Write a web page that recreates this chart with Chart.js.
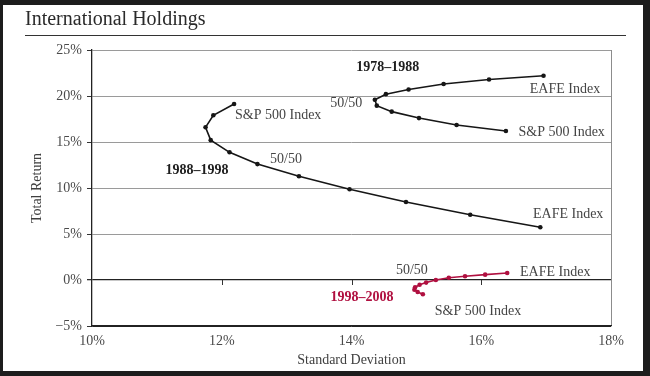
<!DOCTYPE html>
<html><head><meta charset="utf-8">
<script src="https://cdn.jsdelivr.net/npm/chart.js@4.4.1/dist/chart.umd.min.js"></script>
<style>
html,body{margin:0;padding:0;background:#1d1d1d;width:650px;height:376px;overflow:hidden;}
#card{position:absolute;left:3px;top:5px;width:640px;height:366px;background:#fff;}
canvas{position:absolute;left:0;top:0;}
</style></head>
<body>
<div id="card"></div>
<canvas id="c" width="650" height="376"></canvas>
<script>
// Standard deviation (%) and total return (%) for portfolios from 100% EAFE / 100% S&P 500 in 10% steps
const sd7888  = [16.96, 16.12, 15.42, 14.88, 14.53, 14.36, 14.39, 14.62, 15.04, 15.62, 16.38];
const ret7888 = [22.2, 21.8, 21.3, 20.7, 20.2, 19.6, 18.95, 18.3, 17.6, 16.85, 16.2];
const sd8898  = [12.19, 11.87, 11.75, 11.83, 12.12, 12.55, 13.19, 13.97, 14.84, 15.83, 16.91];
const ret8898 = [19.13, 17.9, 16.6, 15.2, 13.88, 12.6, 11.27, 9.86, 8.48, 7.1, 5.73];
const sd9808  = [16.40, 16.06, 15.75, 15.50, 15.30, 15.15, 15.05, 14.98, 14.97, 15.02, 15.10];
const ret9808 = [0.76, 0.58, 0.40, 0.25, 0.0, -0.28, -0.52, -0.78, -1.05, -1.30, -1.55];
const xTicks = [10, 12, 14, 16, 18];
const yTicks = [-5, 0, 5, 10, 15, 20, 25];
const periods = ['1978–1988', '1988–1998', '1998–2008'];
const chartTitle = 'International Holdings';

const zip = (a, b) => a.map((v, i) => ({x: v, y: b[i]}));
const SERIF = "'Liberation Serif', 'DejaVu Serif', serif";
const RED = '#b01040';
const BLK = '#161616';
const TXT = '#454545';

// text annotations (placed in data coordinates)
const notes = [
  {t: periods[0], x: 14.56, y: 23.15, bold: true, c: '#1e1e1e'},
  {t: 'EAFE Index', x: 17.29, y: 20.76},
  {t: '50/50', x: 13.92, y: 19.24},
  {t: 'S&P 500 Index', x: 17.24, y: 16.09},
  {t: 'S&P 500 Index', x: 12.87, y: 17.93},
  {t: periods[1], x: 11.62, y: 11.96, bold: true, c: '#1e1e1e'},
  {t: '50/50', x: 12.99, y: 13.15},
  {t: 'EAFE Index', x: 17.34, y: 7.17},
  {t: '50/50', x: 14.93, y: 1.09},
  {t: 'EAFE Index', x: 17.14, y: 0.87},
  {t: periods[2], x: 14.16, y: -1.85, bold: true, c: RED},
  {t: 'S&P 500 Index', x: 15.95, y: -3.37}
];

const annot = {
  id: 'annot',
  afterDraw(chart) {
    const {ctx, scales: {x, y}} = chart;
    ctx.save();
    // heading and rule
    ctx.font = '20px ' + SERIF;
    ctx.fillStyle = '#2a2a2a';
    ctx.textAlign = 'left';
    ctx.textBaseline = 'alphabetic';
    ctx.fillText(chartTitle, 25, 25);
    ctx.fillStyle = '#333';
    ctx.fillRect(25, 35, 601, 1);
    // small tick marks on the zero line
    ctx.strokeStyle = '#333';
    ctx.lineWidth = 1;
    [12, 14, 16].forEach(v => {
      const px = Math.round(x.getPixelForValue(v)) + 0.5;
      const py = y.getPixelForValue(0);
      ctx.beginPath(); ctx.moveTo(px, py); ctx.lineTo(px, py + 5); ctx.stroke();
    });
    ctx.textAlign = 'center';
    ctx.textBaseline = 'middle';
    notes.forEach(n => {
      ctx.font = (n.bold ? 'bold ' : '') + '14px ' + SERIF;
      ctx.fillStyle = n.c || TXT;
      ctx.fillText(n.t, x.getPixelForValue(n.x), y.getPixelForValue(n.y));
    });
    ctx.restore();
  }
};

const ds = (label, xs, ys, color) => ({
  label, data: zip(xs, ys), showLine: true, tension: 0,
  borderColor: color, backgroundColor: color, borderWidth: 1.6,
  pointRadius: 2.3, pointHoverRadius: 2.3, pointStyle: 'circle', pointBorderWidth: 0
});

new Chart(document.getElementById('c'), {
  type: 'scatter',
  data: {datasets: [
    ds(periods[0], sd7888, ret7888, BLK),
    ds(periods[1], sd8898, ret8898, BLK),
    ds(periods[2], sd9808, ret9808, RED)
  ]},
  options: {
    responsive: false, animation: false, devicePixelRatio: 1,
    layout: {padding: {left: 0, right: 39, top: 50, bottom: 4}},
    plugins: {legend: {display: false}, tooltip: {enabled: false}},
    scales: {
      x: {
        type: 'linear', min: 10, max: 18,
        afterBuildTicks: s => { s.ticks = xTicks.map(v => ({value: v})); },
        ticks: {callback: v => v + '%', padding: 7, color: '#4a4a4a', font: {family: SERIF, size: 14}, maxRotation: 0},
        grid: {display: true, drawTicks: false, lineWidth: 1,
               color: c => (c.tick && c.tick.value === 18) ? '#8c8c8c' : 'rgba(0,0,0,0)'},
        border: {display: true, color: '#222', width: 1.3},
        title: {display: true, text: 'Standard Deviation', color: '#404040',
                font: {family: SERIF, size: 14}, padding: {top: 0, bottom: 3}},
        afterFit: s => { s.height = 46; }
      },
      y: {
        type: 'linear', min: -5, max: 25,
        afterBuildTicks: s => { s.ticks = yTicks.map(v => ({value: v})); },
        ticks: {callback: v => v < 0 ? '−' + Math.abs(v) + '%' : v + '%', padding: 5, color: '#4a4a4a',
                font: {family: SERIF, size: 14}},
        grid: {lineWidth: c => (c.tick && c.tick.value === 0) ? 1.3 : 1,
               color: c => (c.tick && (c.tick.value === 0 || c.tick.value === -5)) ? '#222' : '#9a9a9a',
               tickColor: '#333', tickLength: 5},
        border: {display: true, color: '#222', width: 1.3},
        title: {display: true, text: 'Total Return', color: '#404040',
                font: {family: SERIF, size: 14}, padding: {top: 29, bottom: 0}},
        afterFit: s => { s.width = 92; }
      }
    }
  },
  plugins: [annot]
});
</script>
</body></html>
